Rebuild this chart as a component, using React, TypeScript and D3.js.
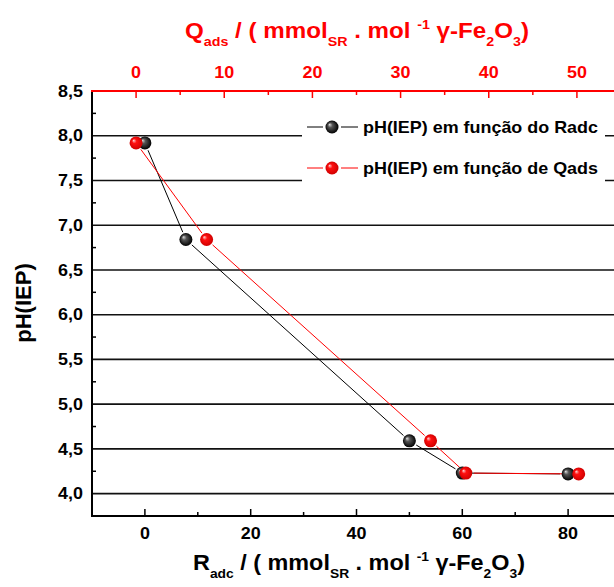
import React from "react";
import * as d3 from "d3";

const radcValues = [0, 7.75, 50, 60, 80];
const phRadc = [7.92, 6.84, 4.59, 4.23, 4.22];
const qadsValues = [0, 8, 33.4, 37.4, 50.2];
const phQads = [7.92, 6.84, 4.59, 4.23, 4.22];
const yTicks = [4.0, 4.5, 5.0, 5.5, 6.0, 6.5, 7.0, 7.5, 8.0, 8.5];
const bottomTicks = [0, 20, 40, 60, 80];
const topTicks = [0, 10, 20, 30, 40, 50];
const legendLabels = ["pH(IEP) em função do Radc", "pH(IEP) em função de Qads"];

const W = 614;
const H = 587;
const L = 92, R = 621, T = 91, B = 516;
const FONT = "'Liberation Sans', Arial, sans-serif";
const STRETCH = 1.12;

function labelWidth(s: string, size: number) {
  let w = 0;
  for (const c of s) w += c === "," ? 0.278 : 0.556;
  return w * size * STRETCH;
}

function gapSegments(pts: [number, number][], gap: number) {
  const segs: [number, number, number, number][] = [];
  for (let i = 0; i < pts.length - 1; i++) {
    const [x1, y1] = pts[i];
    const [x2, y2] = pts[i + 1];
    const len = Math.hypot(x2 - x1, y2 - y1);
    if (len <= 2 * gap) continue;
    const ux = (x2 - x1) / len, uy = (y2 - y1) / len;
    segs.push([x1 + ux * gap, y1 + uy * gap, x2 - ux * gap, y2 - uy * gap]);
  }
  return segs;
}

export default function App() {
  const x = d3.scaleLinear().domain([-10, 90]).range([L, R]);
  const xq = d3.scaleLinear().domain([-5, 55]).range([L, R]);
  const y = d3.scaleLinear().domain([3.75, 8.5]).range([B, T]);

  const blackPts = radcValues.map((v, i) => [x(v), y(phRadc[i])] as [number, number]);
  const redPts = qadsValues.map((v, i) => [xq(v), y(phQads[i])] as [number, number]);

  const minorY = [4.25, 4.75, 5.25, 5.75, 6.25, 6.75, 7.25, 7.75, 8.25];
  const minorBottom = d3.range(10, 90, 20);
  const minorTop = d3.range(5, 56, 10);
  const fmt = (v: number) => v.toFixed(1).replace(".", ",");

  const legendRows = [
    { y: 127, color: "#000", grad: "url(#gBlack)", label: legendLabels[0] },
    { y: 168, color: "#ff0000", grad: "url(#gRed)", label: legendLabels[1] },
  ];

  return (
    <svg width={W} height={H} style={{ position: "absolute", left: 0, top: 0 }} fontFamily={FONT}>
      <defs>
        <radialGradient id="gBlack" cx="0.5" cy="0.5" r="0.5" fx="0.3" fy="0.3">
          <stop offset="0" stopColor="#e0e0e0" />
          <stop offset="0.35" stopColor="#555" />
          <stop offset="1" stopColor="#000" />
        </radialGradient>
        <radialGradient id="gRed" cx="0.5" cy="0.5" r="0.5" fx="0.3" fy="0.3">
          <stop offset="0" stopColor="#ffd8d8" />
          <stop offset="0.35" stopColor="#ff1010" />
          <stop offset="1" stopColor="#d00000" />
        </radialGradient>
      </defs>
      <rect width={W} height={H} fill="#fff" />

      {/* gridlines */}
      {yTicks.filter((v) => v < 8.5).map((v) => (
        <line key={"g" + v} x1={L} x2={R} y1={y(v)} y2={y(v)} stroke="#111" strokeWidth={1.6} />
      ))}

      {/* left minor ticks */}
      {minorY.map((v) => (
        <line key={"my" + v} x1={L} x2={L + 4} y1={y(v)} y2={y(v)} stroke="#000" strokeWidth={1.5} />
      ))}
      {/* bottom ticks */}
      {bottomTicks.map((v) => (
        <line key={"bt" + v} x1={x(v)} x2={x(v)} y1={B} y2={B - 7} stroke="#000" strokeWidth={1.5} />
      ))}
      {minorBottom.map((v) => (
        <line key={"bm" + v} x1={x(v)} x2={x(v)} y1={B} y2={B - 4} stroke="#000" strokeWidth={1.5} />
      ))}
      {/* top ticks */}
      {topTicks.map((v) => (
        <line key={"tt" + v} x1={xq(v)} x2={xq(v)} y1={T} y2={T + 7} stroke="#ff0000" strokeWidth={1.5} />
      ))}
      {minorTop.map((v) => (
        <line key={"tm" + v} x1={xq(v)} x2={xq(v)} y1={T} y2={T + 4} stroke="#ff0000" strokeWidth={1.5} />
      ))}

      {/* axes lines */}
      <line x1={L} x2={L} y1={T} y2={B + 1} stroke="#000" strokeWidth={2} />
      <line x1={L - 1} x2={R} y1={B} y2={B} stroke="#000" strokeWidth={2} />
      <line x1={L - 1} x2={R} y1={T} y2={T} stroke="#ff0000" strokeWidth={2} />

      {/* left tick labels */}
      {yTicks.map((v) => (
        <text key={"yl" + v} x={83} y={y(v)} dy="0.36em" textAnchor="end" fontSize={16} fontWeight="bold" fill="#000"
          textLength={labelWidth(fmt(v), 16)} lengthAdjust="spacingAndGlyphs">
          {fmt(v)}
        </text>
      ))}
      {/* bottom labels */}
      {bottomTicks.map((v) => (
        <text key={"bl" + v} x={x(v)} y={539} textAnchor="middle" fontSize={16} fontWeight="bold" fill="#000"
          textLength={labelWidth(String(v), 16)} lengthAdjust="spacingAndGlyphs">
          {v}
        </text>
      ))}
      {/* top labels */}
      {topTicks.map((v) => (
        <text key={"tl" + v} x={xq(v)} y={78} textAnchor="middle" fontSize={16} fontWeight="bold" fill="#ff0000"
          textLength={labelWidth(String(v), 16)} lengthAdjust="spacingAndGlyphs">
          {v}
        </text>
      ))}

      {/* series */}
      {gapSegments(blackPts, 8).map((s, i) => (
        <line key={"bs" + i} x1={s[0]} y1={s[1]} x2={s[2]} y2={s[3]} stroke="#000" strokeWidth={1} />
      ))}
      {gapSegments(redPts, 8).map((s, i) => (
        <line key={"rs" + i} x1={s[0]} y1={s[1]} x2={s[2]} y2={s[3]} stroke="#ff0000" strokeWidth={1} />
      ))}
      {blackPts.map((p, i) => (
        <circle key={"bp" + i} cx={p[0]} cy={p[1]} r={6.5} fill="url(#gBlack)" />
      ))}
      {redPts.map((p, i) => (
        <circle key={"rp" + i} cx={p[0]} cy={p[1]} r={6.5} fill="url(#gRed)" />
      ))}

      {/* legend */}
      <rect x={302} y={106} width={303} height={82} fill="#fff" />
      {legendRows.map((r, i) => (
        <g key={"lg" + i}>
          <line x1={307} x2={323} y1={r.y} y2={r.y} stroke={r.color} strokeWidth={1} />
          <line x1={341} x2={358} y1={r.y} y2={r.y} stroke={r.color} strokeWidth={1} />
          <circle cx={332} cy={r.y} r={6.5} fill={r.grad} />
          <text x={363} y={r.y} dy="0.36em" fontSize={17} fontWeight="bold" fill="#000" textLength={235} lengthAdjust="spacingAndGlyphs">
            {r.label}
          </text>
        </g>
      ))}

      {/* axis titles */}
      <text x={193} y={570} fontSize={22} fontWeight="bold" fill="#000" textLength={332} lengthAdjust="spacingAndGlyphs">
        R<tspan fontSize={13} dy={8}>adc</tspan>
        <tspan dy={-8}> / ( mmol</tspan>
        <tspan fontSize={13} dy={8}>SR</tspan>
        <tspan dy={-8}> .  mol </tspan>
        <tspan fontSize={13} dy={-9}>-1</tspan>
        <tspan dy={9}> γ-Fe</tspan>
        <tspan fontSize={13} dy={8}>2</tspan>
        <tspan dy={-8}>O</tspan>
        <tspan fontSize={13} dy={8}>3</tspan>
        <tspan dy={-8}>)</tspan>
      </text>
      <text x={185} y={38} fontSize={22} fontWeight="bold" fill="#ff0000" textLength={344} lengthAdjust="spacingAndGlyphs">
        Q<tspan fontSize={13} dy={8}>ads</tspan>
        <tspan dy={-8}> / ( mmol</tspan>
        <tspan fontSize={13} dy={8}>SR</tspan>
        <tspan dy={-8}> .  mol </tspan>
        <tspan fontSize={13} dy={-9}>-1</tspan>
        <tspan dy={9}> γ-Fe</tspan>
        <tspan fontSize={13} dy={8}>2</tspan>
        <tspan dy={-8}>O</tspan>
        <tspan fontSize={13} dy={8}>3</tspan>
        <tspan dy={-8}>)</tspan>
      </text>
      <text transform="translate(31,303) rotate(-90)" textAnchor="middle" fontSize={22} fontWeight="bold" fill="#000">
        pH(IEP)
      </text>
    </svg>
  );
}
